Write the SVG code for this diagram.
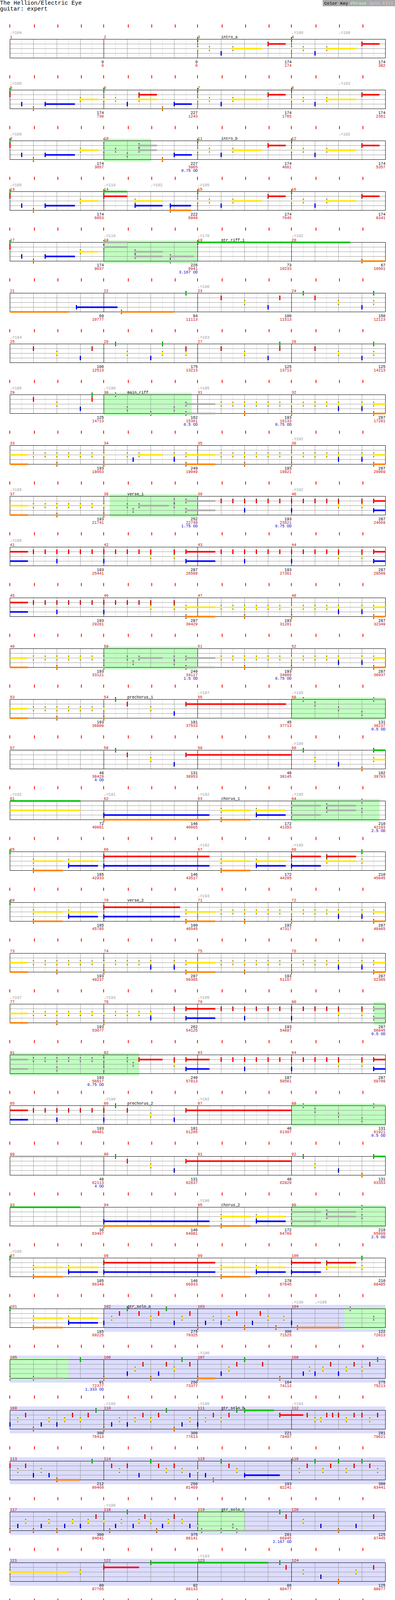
<svg xmlns="http://www.w3.org/2000/svg" width="1010" height="6225" viewBox="0 0 1010 6225">
<style>
text{font-family:"Liberation Mono","DejaVu Sans Mono",monospace;font-size:10px}
.e{text-anchor:end}
.r{fill:#c00}
.g{fill:#060}
.b{fill:#00c}
.t{fill:#999}
.sg,.sr,.sy,.sb,.so,.sa{fill:none;stroke-width:4}
.sg{stroke:#00c000}.sr{stroke:#f00}.sy{stroke:#ffe600}.sb{stroke:#00f}.so{stroke:#ff8000}.sa{stroke:#aaa}
.ph{fill:#c0ffc0}
.sl{fill:#dcdcff}
</style>
<defs>
<path id="tk" d="M24.5-38v8M87.5-38v8M147.5-38v8M207.5-38v8M264.5-38v8M327.5-38v8M387.5-38v8M447.5-38v8M504.5-38v8M567.5-38v8M627.5-38v8M687.5-38v8M744.5-38v8M807.5-38v8M867.5-38v8M927.5-38v8" stroke="#f00" stroke-width="2"/>
<g id="st" fill="none">
<path stroke="#ddd" d="M55 0v48M115 0v48M175 0v48M235 0v48M295 0v48M355 0v48M415 0v48M475 0v48M535 0v48M595 0v48M655 0v48M715 0v48M775 0v48M835 0v48M895 0v48M955 0v48"/>
<path stroke="#999" d="M85 0v48M145 0v48M205 0v48M325 0v48M385 0v48M445 0v48M565 0v48M625 0v48M685 0v48M805 0v48M865 0v48M925 0v48M25 12H985M25 24H985M25 36H985"/>
<path stroke="#000" d="M265 0v48M505 0v48M745 0v48"/>
<rect x="25" y="0" width="960" height="48" stroke="#000"/>
</g>
<g id="G"><rect x="-1.5" y="-5.5" width="3" height="11"/><rect x="-1.5" y="-4.5" width="3" height="9" fill="#00c000"/></g>
<g id="R"><rect x="-1.5" y="6.5" width="3" height="11"/><rect x="-1.5" y="7.5" width="3" height="9" fill="#f00"/></g>
<g id="Y"><rect x="-1.5" y="18.5" width="3" height="11"/><rect x="-1.5" y="19.5" width="3" height="9" fill="#ffe600"/></g>
<g id="B"><rect x="-1.5" y="30.5" width="3" height="11"/><rect x="-1.5" y="31.5" width="3" height="9" fill="#00f"/></g>
<g id="O"><rect x="-1.5" y="42.5" width="3" height="11"/><rect x="-1.5" y="43.5" width="3" height="9" fill="#ff8000"/></g>
<g id="A0"><rect x="-1.5" y="-5.5" width="3" height="11"/><rect x="-1.5" y="-4.5" width="3" height="9" fill="#999"/><rect x="-0.5" y="-3.5" width="1" height="7" fill="#ddd"/></g>
<use id="A1" href="#A0" y="12"/>
<use id="A2" href="#A0" y="24"/>
<use id="A3" href="#A0" y="36"/>
<use id="A4" href="#A0" y="48"/>
<g id="I1"><path class="sb" d="M115 36H191"/><path class="sy" d="M205 24H251"/><use href="#G" x="25"/><use href="#R" x="25"/><use href="#B" x="55"/><use href="#O" x="85"/><use href="#B" x="115"/><use href="#Y" x="205"/></g>
<g id="I2"><path class="sr" d="M355 12H401"/><path class="sy" d="M355 24H401"/><path class="sb" d="M445 36H490"/><use href="#G" x="265"/><use href="#Y" x="265"/><use href="#Y" x="295"/><use href="#B" x="325"/><use href="#R" x="355"/><use href="#Y" x="355"/><use href="#O" x="415"/><use href="#B" x="445"/></g>
<g id="I3"><path class="sy" d="M90 24H165"/><path class="sr" d="M180 12H225"/><use href="#G"/><use href="#Y"/><use href="#Y" x="30"/><use href="#B" x="60"/><use href="#Y" x="90"/><use href="#R" x="180"/></g>
<g id="Ya"><use href="#Y" x="60"/><use href="#Y" x="90"/><use href="#Y" x="120"/><use href="#Y" x="150"/><use href="#Y" x="180"/><use href="#Y" x="210"/><use href="#O" x="120"/></g>
<g id="Yb"><path class="sy" d="M210 24H240"/><path class="so" d="M210 48H240"/><use href="#Y"/><use href="#Y" x="30"/><use href="#Y" x="60"/><use href="#Y" x="90"/><use href="#Y" x="120"/><use href="#Y" x="180"/><use href="#Y" x="210"/><use href="#B" x="120"/><use href="#B" x="180"/><use href="#O"/><use href="#O" x="210"/></g>
<g id="Ra"><use href="#R" x="60"/><use href="#R" x="90"/><use href="#R" x="120"/><use href="#R" x="150"/><use href="#R" x="180"/><use href="#R" x="210"/><use href="#B" x="120"/></g>
<g id="Rb"><path class="sr" d="M210 12H240"/><path class="sb" d="M210 36H240"/><use href="#R"/><use href="#R" x="30"/><use href="#R" x="60"/><use href="#R" x="90"/><use href="#R" x="120"/><use href="#R" x="180"/><use href="#R" x="210"/><use href="#Y" x="120"/><use href="#Y" x="180"/><use href="#B"/><use href="#B" x="210"/></g>
<g id="YS"><path class="sy" d="M25 24H71"/><path class="so" d="M25 48H71"/><use href="#Ya" x="25"/><use href="#Y" x="265"/><use href="#O" x="265"/></g>
<g id="RS"><path class="sr" d="M25 12H71"/><path class="sb" d="M25 36H71"/><use href="#Ra" x="25"/><use href="#R" x="265"/><use href="#B" x="265"/></g>
<g id="PC"><use href="#G" x="295"/><use href="#R" x="325"/><use href="#Y" x="385"/><use href="#B" x="445"/><use href="#R" x="475"/></g>
<g id="CH"><path class="sy" d="M60 24H135M150 24H225"/><path class="so" d="M60 48H135"/><path class="sb" d="M150 36H225"/><use href="#Y" x="60"/><use href="#O" x="60"/><use href="#Y" x="150"/><use href="#B" x="150"/></g>
<g id="CM"><path class="sr" d="M745 12H820M835 12H910"/><path class="sb" d="M745 36H820"/><path class="sy" d="M835 24H910"/><use href="#R" x="745"/><use href="#B" x="745"/><use href="#R" x="835"/><use href="#Y" x="835"/><use href="#G" x="925"/><use href="#Y" x="925"/></g>
<g id="GR"><path class="sa" d="M745 12H820M745 36H820M835 12H910M835 24H910"/><use href="#A1" x="745"/><use href="#A3" x="745"/><use href="#A1" x="835"/><use href="#A2" x="835"/><use href="#A0" x="925"/><use href="#A2" x="925"/></g>
<g id="R8"><use href="#R"/><use href="#R" x="30"/><use href="#R" x="60"/><use href="#R" x="90"/><use href="#R" x="120"/><use href="#R" x="150"/><use href="#R" x="180"/><use href="#R" x="210"/></g>
<g id="BR1"><use href="#R" x="265"/><use href="#R" x="295"/><use href="#R" x="325"/><use href="#R" x="355"/><use href="#R" x="385"/><use href="#R" x="445"/><use href="#O" x="295"/><use href="#B" x="385"/><use href="#Y" x="415"/></g>
<g id="BR2"><path class="sr" d="M655 12H715"/><path class="sb" d="M655 36H715"/><use href="#R" x="505"/><use href="#R" x="535"/><use href="#R" x="595"/><use href="#R" x="655"/><use href="#B" x="535"/><use href="#B" x="655"/><use href="#O" x="595"/></g>
<g id="BC"><path class="sy" d="M805 24H865"/><path class="so" d="M805 48H865"/><use href="#Y" x="745"/><use href="#O" x="775"/><use href="#Y" x="805"/><use href="#O" x="805"/><use href="#Y" x="895"/><use href="#B" x="895"/><use href="#Y" x="955"/></g>
<g id="BD1"><path class="sb" d="M115 36H191"/><path class="so" d="M115 48H191"/><use href="#Y" x="25"/><use href="#O" x="25"/><use href="#Y" x="85"/><use href="#B" x="115"/><use href="#O" x="115"/><use href="#B" x="205"/><use href="#O" x="235"/></g>
<g id="BD2"><path class="sy" d="M325 24H401"/><path class="so" d="M325 48H401"/><path class="sr" d="M415 12H490"/><path class="sb" d="M415 36H490"/><use href="#Y" x="265"/><use href="#O" x="295"/><use href="#Y" x="325"/><use href="#O" x="325"/><use href="#R" x="415"/><use href="#B" x="415"/></g>
<g id="E1"><path class="sr" d="M25 12H100M115 12H191"/><path class="sb" d="M25 36H100"/><path class="sy" d="M115 24H191"/><use href="#R" x="25"/><use href="#B" x="25"/><use href="#R" x="115"/><use href="#Y" x="115"/></g>
</defs>
<rect width="1010" height="6225" fill="#fff"/>
<g id="header">
<text x="0" y="12" style="font-size:14.5px">The Hellion/Electric Eye</text>
<text x="0" y="27" style="font-size:14.5px">guitar: expert</text>
<rect x="825" y="0" width="185" height="16" fill="#aaa"/>
<text x="829" y="11.5" style="font-size:11.3px">Color Key <tspan fill="#c0ffc0">Phrase</tspan> <tspan fill="#d0d0ff">Solo</tspan> <tspan fill="#ffc0c0">Fill</tspan></text>
</g>

<g id="row0" transform="translate(.5 100.5)"><use href="#st"/><use href="#tk"/>
<text class="t" y="-14"><tspan x="25">♩=104</tspan><tspan x="745">♩=106</tspan><tspan x="865">♩=100</tspan></text>
<text class="r" y="-3"><tspan x="25">1</tspan><tspan x="265">2</tspan><tspan x="505">3</tspan><tspan x="745">4</tspan></text>
<text x="565" y="-3">intro_a</text>
<use href="#I3" x="505"/><use href="#I3" x="745"/>
<text class="e" y="61"><tspan x="265">0</tspan><tspan x="505">0</tspan><tspan x="745">174</tspan><tspan x="985">174</tspan></text>
<text class="e r" y="70"><tspan x="265">0</tspan><tspan x="505">0</tspan><tspan x="745">174</tspan><tspan x="985">382</tspan></text>
</g>

<g id="row1" transform="translate(.5 230.5)"><use href="#st"/><use href="#tk"/>
<text class="t" y="-14"><tspan x="25">♩=105</tspan><tspan x="865">♩=103</tspan></text>
<text class="r" y="-3"><tspan x="25">5</tspan><tspan x="265">6</tspan><tspan x="505">7</tspan><tspan x="745">8</tspan></text>
<use href="#I1"/><use href="#I2"/><use href="#I3" x="505"/><use href="#I3" x="745"/>
<text class="e" y="61"><tspan x="265">174</tspan><tspan x="505">227</tspan><tspan x="745">174</tspan><tspan x="985">174</tspan></text>
<text class="e r" y="70"><tspan x="265">730</tspan><tspan x="505">1243</tspan><tspan x="745">1765</tspan><tspan x="985">2361</tspan></text>
</g>

<g id="row2" transform="translate(.5 360.5)"><rect class="ph" x="265" y="-5" width="121" height="58"/><use href="#st"/><use href="#tk"/>
<text class="t" y="-14"><tspan x="25">♩=105</tspan><tspan x="865">♩=102</tspan></text>
<text class="r" y="-3"><tspan x="25">9</tspan><tspan x="265">10</tspan><tspan x="505">11</tspan><tspan x="745">12</tspan></text>
<text x="565" y="-3">intro_b</text>
<use href="#I1"/>
<path class="sa" d="M355 12H401M355 24H401"/><path class="sb" d="M445 36H490"/>
<use href="#A0" x="265"/><use href="#A2" x="265"/><use href="#A2" x="295"/><use href="#A3" x="325"/><use href="#A1" x="355"/><use href="#A2" x="355"/><use href="#O" x="415"/><use href="#B" x="445"/>
<use href="#I3" x="505"/><use href="#I3" x="745"/>
<text class="e" y="61"><tspan x="265">174</tspan><tspan x="505">227</tspan><tspan x="745">174</tspan><tspan x="985">174</tspan></text>
<text class="e r" y="70"><tspan x="265">3057</tspan><tspan x="505">3965</tspan><tspan x="745">4661</tspan><tspan x="985">5357</tspan></text>
<text class="e b" x="505" y="79">0.75 OD</text>
</g>

<g id="row3" transform="translate(.5 490.5)"><use href="#st"/><use href="#tk"/>
<text class="t" y="-14"><tspan x="25">♩=105</tspan><tspan x="265">♩=110</tspan><tspan x="385">♩=102</tspan><tspan x="505">♩=105</tspan></text>
<text class="r" y="-3"><tspan x="25">13</tspan><tspan x="265">14</tspan><tspan x="505">15</tspan><tspan x="745">16</tspan></text>
<use href="#I1"/>
<path class="sg" d="M265 0H325"/><path class="sr" d="M265 12H325"/><path class="sy" d="M345 24H415"/><path class="sb" d="M345 36H415M435 36H488"/><path class="so" d="M435 48H488"/>
<use href="#G" x="265"/><use href="#R" x="265"/><use href="#Y" x="345"/><use href="#B" x="345"/><use href="#B" x="435"/><use href="#O" x="435"/>
<use href="#I3" x="505"/><use href="#I3" x="745"/>
<text class="e" y="61"><tspan x="265">174</tspan><tspan x="505">222</tspan><tspan x="745">174</tspan><tspan x="985">174</tspan></text>
<text class="e r" y="70"><tspan x="265">6053</tspan><tspan x="505">6949</tspan><tspan x="745">7645</tspan><tspan x="985">8341</tspan></text>
</g>

<g id="row4" transform="translate(.5 620.5)"><rect class="ph" x="265" y="-5" width="240" height="58"/><use href="#st"/><use href="#tk"/>
<text class="t" y="-14"><tspan x="265">♩=110</tspan><tspan x="505">♩=176</tspan><tspan x="745">♩=192</tspan></text>
<text class="r" y="-3"><tspan x="25">17</tspan><tspan x="265">18</tspan><tspan x="505">19</tspan><tspan x="745">20</tspan></text>
<text x="565" y="-3">gtr_riff_1</text>
<use href="#I1"/>
<path class="sa" d="M265 0H325M265 12H325M345 24H415M345 36H415M435 36H495M435 48H495"/>
<use href="#A0" x="265"/><use href="#A1" x="265"/><use href="#A2" x="345"/><use href="#A3" x="345"/><use href="#A3" x="435"/><use href="#A4" x="435"/>
<path class="sg" d="M505 0H895"/><use href="#G" x="505"/><path class="so" d="M925 48H985"/><use href="#O" x="925"/>
<text class="e" y="61"><tspan x="265">174</tspan><tspan x="505">226</tspan><tspan x="745">73</tspan><tspan x="985">67</tspan></text>
<text class="e r" y="70"><tspan x="265">9037</tspan><tspan x="505">9941</tspan><tspan x="745">10233</tspan><tspan x="985">10501</tspan></text>
<text class="e b" x="505" y="79">3.167 OD</text>
</g>

<g id="row5" transform="translate(.5 750.5)"><use href="#st"/><use href="#tk"/>
<text class="t" x="505" y="-14">♩=190</text>
<text class="r" y="-3"><tspan x="25">21</tspan><tspan x="265">22</tspan><tspan x="505">23</tspan><tspan x="745">24</tspan></text>
<path class="so" d="M25 48H175M310 48H445"/><path class="sb" d="M195 36H300"/>
<use href="#B" x="195"/><use href="#O" x="310"/><use href="#G" x="475"/><use href="#R" x="565"/><use href="#Y" x="625"/><use href="#B" x="685"/><use href="#R" x="715"/><use href="#G" x="775"/><use href="#R" x="805"/><use href="#Y" x="865"/><use href="#B" x="925"/><use href="#G" x="955"/><use href="#Y" x="955"/>
<text class="e" y="61"><tspan x="265">69</tspan><tspan x="505">84</tspan><tspan x="745">100</tspan><tspan x="985">150</tspan></text>
<text class="e r" y="70"><tspan x="265">10777</tspan><tspan x="505">11113</tspan><tspan x="745">11513</tspan><tspan x="985">12113</tspan></text>
</g>

<g id="row6" transform="translate(.5 880.5)"><use href="#st"/><use href="#tk"/>
<text class="t" y="-14"><tspan x="25">♩=184</tspan><tspan x="505">♩=183</tspan></text>
<text class="r" y="-3"><tspan x="25">25</tspan><tspan x="265">26</tspan><tspan x="505">27</tspan><tspan x="745">28</tspan></text>
<use href="#R" x="85"/><use href="#Y" x="145"/><use href="#B" x="205"/><use href="#R" x="235"/><use href="#G" x="295"/><use href="#Y" x="325"/><use href="#B" x="385"/><use href="#G" x="415"/><use href="#Y" x="415"/><use href="#R" x="475"/><use href="#Y" x="475"/><use href="#R" x="565"/><use href="#Y" x="625"/><use href="#B" x="685"/><use href="#G" x="715"/><use href="#R" x="715"/><use href="#R" x="805"/><use href="#Y" x="865"/><use href="#B" x="925"/><use href="#G" x="955"/><use href="#Y" x="955"/>
<text class="e" y="61"><tspan x="265">100</tspan><tspan x="505">175</tspan><tspan x="745">125</tspan><tspan x="985">125</tspan></text>
<text class="e r" y="70"><tspan x="265">12513</tspan><tspan x="505">13213</tspan><tspan x="745">13713</tspan><tspan x="985">14213</tspan></text>
</g>

<g id="row7" transform="translate(.5 1010.5)"><rect class="ph" x="265" y="-5" width="225" height="58"/><use href="#st"/><use href="#tk"/>
<text class="t" y="-14"><tspan x="25">♩=185</tspan><tspan x="265">♩=190</tspan><tspan x="505">♩=195</tspan></text>
<text class="r" y="-3"><tspan x="25">29</tspan><tspan x="265">30</tspan><tspan x="505">31</tspan><tspan x="745">32</tspan></text>
<text x="325" y="-3">main_riff</text>
<use href="#R" x="85"/><use href="#Y" x="145"/><use href="#B" x="205"/><use href="#G" x="235"/><use href="#R" x="235"/>
<use href="#A0" x="295"/><use href="#A3" x="325"/><use href="#A4" x="385"/><use href="#A3" x="445"/>
<path class="sa" d="M475 24H550M475 48H550"/><use href="#A2" x="475"/><use href="#A4" x="475"/>
<use href="#Ya" x="505"/><use href="#Yb" x="745"/>
<text class="e" y="61"><tspan x="265">125</tspan><tspan x="505">162</tspan><tspan x="745">193</tspan><tspan x="985">287</tspan></text>
<text class="e r" y="70"><tspan x="265">14713</tspan><tspan x="505">15361</tspan><tspan x="745">16133</tspan><tspan x="985">17281</tspan></text>
<text class="e b" y="79"><tspan x="505">0.5 OD</tspan><tspan x="745">0.75 OD</tspan></text>
</g>

<g id="row8" transform="translate(.5 1140.5)"><use href="#st"/><use href="#tk"/>
<text class="t" x="745" y="-14">♩=192</text>
<text class="r" y="-3"><tspan x="25">33</tspan><tspan x="265">34</tspan><tspan x="505">35</tspan><tspan x="745">36</tspan></text>
<use href="#YS"/>
<path class="sy" d="M355 24H415M475 24H550"/><path class="so" d="M475 48H550"/>
<use href="#Y" x="325"/><use href="#B" x="340"/><use href="#Y" x="355"/><use href="#Y" x="445"/><use href="#B" x="445"/><use href="#Y" x="475"/><use href="#O" x="475"/>
<use href="#Ya" x="505"/><use href="#Yb" x="745"/>
<text class="e" y="61"><tspan x="265">193</tspan><tspan x="505">249</tspan><tspan x="745">193</tspan><tspan x="985">287</tspan></text>
<text class="e r" y="70"><tspan x="265">18053</tspan><tspan x="505">19049</tspan><tspan x="745">19821</tspan><tspan x="985">20969</tspan></text>
</g>

<g id="row9" transform="translate(.5 1270.5)"><rect class="ph" x="280" y="-5" width="225" height="58"/><use href="#st"/><use href="#tk"/>
<text class="t" y="-14"><tspan x="25">♩=195</tspan><tspan x="745">♩=192</tspan></text>
<text class="r" y="-3"><tspan x="25">37</tspan><tspan x="265">38</tspan><tspan x="505">39</tspan><tspan x="745">40</tspan></text>
<text x="325" y="-3">verse_1</text>
<use href="#YS"/>
<path class="sa" d="M355 24H431M475 12H550M475 36H550"/>
<use href="#A2" x="325"/><use href="#A3" x="340"/><use href="#A2" x="355"/><use href="#A1" x="445"/><use href="#A2" x="445"/><use href="#A1" x="475"/><use href="#A3" x="475"/>
<use href="#Ra" x="505"/><use href="#Rb" x="745"/>
<text class="e" y="61"><tspan x="265">193</tspan><tspan x="505">252</tspan><tspan x="745">193</tspan><tspan x="985">287</tspan></text>
<text class="e r" y="70"><tspan x="265">21741</tspan><tspan x="505">22749</tspan><tspan x="745">23521</tspan><tspan x="985">24669</tspan></text>
<text class="e b" y="79"><tspan x="505">1.75 OD</tspan><tspan x="745">0.75 OD</tspan></text>
</g>

<g id="row10" transform="translate(.5 1400.5)"><use href="#st"/><use href="#tk"/>
<text class="t" x="25" y="-14">♩=195</text>
<text class="r" y="-3"><tspan x="25">41</tspan><tspan x="265">42</tspan><tspan x="505">43</tspan><tspan x="745">44</tspan></text>
<use href="#RS"/>
<path class="sr" d="M475 12H550"/><path class="sb" d="M475 36H550"/>
<use href="#R" x="295"/><use href="#R" x="325"/><use href="#R" x="355"/><use href="#R" x="385"/><use href="#Y" x="385"/><use href="#R" x="445"/><use href="#Y" x="445"/><use href="#R" x="475"/><use href="#B" x="475"/>
<use href="#Ra" x="505"/><use href="#Rb" x="745"/>
<text class="e" y="61"><tspan x="265">193</tspan><tspan x="505">287</tspan><tspan x="745">193</tspan><tspan x="985">287</tspan></text>
<text class="e r" y="70"><tspan x="265">25441</tspan><tspan x="505">26589</tspan><tspan x="745">27361</tspan><tspan x="985">28509</tspan></text>
</g>

<g id="row11" transform="translate(.5 1530.5)"><use href="#st"/><use href="#tk"/>
<text class="r" y="-3"><tspan x="25">45</tspan><tspan x="265">46</tspan><tspan x="505">47</tspan><tspan x="745">48</tspan></text>
<use href="#RS"/>
<path class="sy" d="M475 24H550"/><path class="so" d="M475 48H550"/>
<use href="#R" x="295"/><use href="#R" x="325"/><use href="#R" x="355"/><use href="#R" x="385"/><use href="#Y" x="385"/><use href="#R" x="445"/><use href="#Y" x="445"/><use href="#Y" x="475"/><use href="#O" x="475"/>
<use href="#Ya" x="505"/><use href="#Yb" x="745"/>
<text class="e" y="61"><tspan x="265">193</tspan><tspan x="505">287</tspan><tspan x="745">193</tspan><tspan x="985">287</tspan></text>
<text class="e r" y="70"><tspan x="265">29281</tspan><tspan x="505">30429</tspan><tspan x="745">31201</tspan><tspan x="985">32349</tspan></text>
</g>

<g id="row12" transform="translate(.5 1660.5)"><rect class="ph" x="265" y="-5" width="240" height="58"/><use href="#st"/><use href="#tk"/>
<text class="r" y="-3"><tspan x="25">49</tspan><tspan x="265">50</tspan><tspan x="505">51</tspan><tspan x="745">52</tspan></text>
<path class="sy" d="M25 24H71"/><path class="so" d="M25 48H71"/><use href="#Ya" x="25"/>
<path class="sa" d="M355 24H415M475 24H550M475 48H550"/>
<use href="#A2" x="265"/><use href="#A4" x="265"/><use href="#A2" x="325"/><use href="#A3" x="340"/><use href="#A2" x="355"/><use href="#A2" x="445"/><use href="#A3" x="445"/><use href="#A2" x="475"/><use href="#A4" x="475"/>
<use href="#Ya" x="505"/><use href="#Yb" x="745"/>
<text class="e" y="61"><tspan x="265">193</tspan><tspan x="505">249</tspan><tspan x="745">193</tspan><tspan x="985">287</tspan></text>
<text class="e r" y="70"><tspan x="265">33121</tspan><tspan x="505">34117</tspan><tspan x="745">34889</tspan><tspan x="985">36037</tspan></text>
<text class="e b" y="79"><tspan x="505">1.5 OD</tspan><tspan x="745">0.75 OD</tspan></text>
</g>

<g id="row13" transform="translate(.5 1790.5)"><rect class="ph" x="745" y="-5" width="240" height="58"/><use href="#st"/><use href="#tk"/>
<text class="t" y="-14"><tspan x="505">♩=197</tspan><tspan x="745">♩=195</tspan></text>
<text class="r" y="-3"><tspan x="25">53</tspan><tspan x="265">54</tspan><tspan x="505">55</tspan><tspan x="745">56</tspan></text>
<text x="325" y="-3">prechorus_1</text>
<use href="#YS"/>
<path class="sr" d="M475 12H731"/><use href="#PC"/>
<path class="sa" d="M955 0H985"/>
<use href="#A0" x="775"/><use href="#A1" x="805"/><use href="#A2" x="865"/><use href="#A3" x="925"/><use href="#A0" x="955"/>
<text class="e" y="61"><tspan x="265">193</tspan><tspan x="505">181</tspan><tspan x="745">45</tspan><tspan x="985">131</tspan></text>
<text class="e r" y="70"><tspan x="265">36809</tspan><tspan x="505">37533</tspan><tspan x="745">37713</tspan><tspan x="985">38237</tspan></text>
<text class="e b" x="985" y="79">0.5 OD</text>
</g>

<g id="row14" transform="translate(.5 1920.5)"><use href="#st"/><use href="#tk"/>
<text class="t" x="745" y="-14">♩=190</text>
<text class="r" y="-3"><tspan x="25">57</tspan><tspan x="265">58</tspan><tspan x="505">59</tspan><tspan x="745">60</tspan></text>
<path class="sa" d="M25 0H265"/>
<path class="sr" d="M475 12H745"/><use href="#PC"/>
<path class="sg" d="M955 0H985"/><path class="sy" d="M955 24H985"/>
<use href="#G" x="775"/><use href="#Y" x="805"/><use href="#B" x="865"/><use href="#O" x="925"/><use href="#G" x="955"/><use href="#Y" x="955"/>
<text class="e" y="61"><tspan x="265">48</tspan><tspan x="505">131</tspan><tspan x="745">48</tspan><tspan x="985">162</tspan></text>
<text class="e r" y="70"><tspan x="265">38429</tspan><tspan x="505">38953</tspan><tspan x="745">39145</tspan><tspan x="985">39793</tspan></text>
<text class="e b" x="265" y="79">4 OD</text>
</g>

<g id="row15" transform="translate(.5 2050.5)"><rect class="ph" x="745" y="-5" width="225" height="58"/><use href="#st"/><use href="#tk"/>
<text class="t" y="-14"><tspan x="25">♩=192</tspan><tspan x="265">♩=191</tspan><tspan x="505">♩=192</tspan><tspan x="745">♩=195</tspan></text>
<text class="r" y="-3"><tspan x="25">61</tspan><tspan x="265">62</tspan><tspan x="505">63</tspan><tspan x="745">64</tspan></text>
<text x="565" y="-3">chorus_1</text>
<path class="sg" d="M25 0H205"/><path class="sy" d="M25 24H205"/>
<path class="sb" d="M265 36H535"/><path class="so" d="M265 48H535"/><use href="#B" x="265"/><use href="#O" x="265"/>
<use href="#CH" x="505"/><use href="#GR"/>
<text class="e" y="61"><tspan x="265">72</tspan><tspan x="505">146</tspan><tspan x="745">172</tspan><tspan x="985">210</tspan></text>
<text class="e r" y="70"><tspan x="265">40081</tspan><tspan x="505">40665</tspan><tspan x="745">41353</tspan><tspan x="985">42193</tspan></text>
<text class="e b" x="985" y="79">2.5 OD</text>
</g>

<g id="row16" transform="translate(.5 2180.5)"><use href="#st"/><use href="#tk"/>
<text class="t" y="-14"><tspan x="505">♩=192</tspan><tspan x="745">♩=195</tspan></text>
<text class="r" y="-3"><tspan x="25">65</tspan><tspan x="265">66</tspan><tspan x="505">67</tspan><tspan x="745">68</tspan></text>
<use href="#G" x="25"/><use href="#CH" x="25"/>
<path class="sr" d="M265 12H535"/><path class="sb" d="M265 36H535"/><use href="#R" x="265"/><use href="#B" x="265"/>
<use href="#CH" x="505"/><use href="#CM"/>
<text class="e" y="61"><tspan x="265">185</tspan><tspan x="505">146</tspan><tspan x="745">172</tspan><tspan x="985">210</tspan></text>
<text class="e r" y="70"><tspan x="265">42933</tspan><tspan x="505">43517</tspan><tspan x="745">44205</tspan><tspan x="985">45045</tspan></text>
</g>

<g id="row17" transform="translate(.5 2310.5)"><use href="#st"/><use href="#tk"/>
<text class="t" x="505" y="-14">♩=193</text>
<text class="r" y="-3"><tspan x="25">69</tspan><tspan x="265">70</tspan><tspan x="505">71</tspan><tspan x="745">72</tspan></text>
<text x="325" y="-3">verse_2</text>
<use href="#G" x="25"/><use href="#CH" x="25"/>
<path class="sr" d="M265 12H460"/><path class="sb" d="M265 36H460"/><use href="#R" x="265"/><use href="#B" x="265"/>
<path class="sy" d="M475 24H550"/><path class="so" d="M475 48H550"/><use href="#Y" x="475"/><use href="#O" x="475"/>
<use href="#Ya" x="505"/><use href="#Yb" x="745"/>
<text class="e" y="61"><tspan x="265">185</tspan><tspan x="505">190</tspan><tspan x="745">193</tspan><tspan x="985">287</tspan></text>
<text class="e r" y="70"><tspan x="265">45785</tspan><tspan x="505">46545</tspan><tspan x="745">47317</tspan><tspan x="985">48465</tspan></text>
</g>

<g id="row18" transform="translate(.5 2440.5)"><use href="#st"/><use href="#tk"/>
<text class="r" y="-3"><tspan x="25">73</tspan><tspan x="265">74</tspan><tspan x="505">75</tspan><tspan x="745">76</tspan></text>
<use href="#YS"/>
<path class="sy" d="M475 24H550"/><path class="so" d="M475 48H550"/>
<use href="#Y" x="295"/><use href="#Y" x="325"/><use href="#Y" x="355"/><use href="#Y" x="385"/><use href="#B" x="385"/><use href="#Y" x="445"/><use href="#B" x="445"/><use href="#Y" x="475"/><use href="#O" x="475"/>
<use href="#Ya" x="505"/><use href="#Yb" x="745"/>
<text class="e" y="61"><tspan x="265">193</tspan><tspan x="505">287</tspan><tspan x="745">193</tspan><tspan x="985">287</tspan></text>
<text class="e r" y="70"><tspan x="265">49237</tspan><tspan x="505">50385</tspan><tspan x="745">51157</tspan><tspan x="985">52305</tspan></text>
</g>

<g id="row19" transform="translate(.5 2570.5)"><rect class="ph" x="955" y="-5" width="30" height="58"/><use href="#st"/><use href="#tk"/>
<text class="t" y="-14"><tspan x="25">♩=197</tspan><tspan x="265">♩=193</tspan><tspan x="505">♩=195</tspan></text>
<text class="r" y="-3"><tspan x="25">77</tspan><tspan x="265">78</tspan><tspan x="505">79</tspan><tspan x="745">80</tspan></text>
<use href="#YS"/>
<path class="sr" d="M475 12H550"/><path class="sb" d="M475 36H550"/>
<use href="#Y" x="295"/><use href="#Y" x="325"/><use href="#Y" x="355"/><use href="#Y" x="385"/><use href="#B" x="385"/><use href="#R" x="445"/><use href="#R" x="475"/><use href="#B" x="475"/>
<use href="#Ra" x="505"/>
<use href="#R" x="745"/><use href="#R" x="775"/><use href="#R" x="805"/><use href="#R" x="835"/><use href="#R" x="865"/><use href="#Y" x="865"/><use href="#R" x="925"/><use href="#Y" x="925"/><use href="#B" x="745"/>
<path class="sa" d="M955 12H985M955 36H985"/><use href="#A1" x="955"/><use href="#A3" x="955"/>
<text class="e" y="61"><tspan x="265">193</tspan><tspan x="505">262</tspan><tspan x="745">193</tspan><tspan x="985">287</tspan></text>
<text class="e r" y="70"><tspan x="265">53077</tspan><tspan x="505">54125</tspan><tspan x="745">54897</tspan><tspan x="985">56045</tspan></text>
<text class="e b" x="985" y="79">0.5 OD</text>
</g>

<g id="row20" transform="translate(.5 2700.5)"><rect class="ph" x="25" y="-5" width="330" height="58"/><use href="#st"/><use href="#tk"/>
<text class="r" y="-3"><tspan x="25">81</tspan><tspan x="265">82</tspan><tspan x="505">83</tspan><tspan x="745">84</tspan></text>
<path class="sa" d="M25 12H71M25 36H71"/>
<use href="#A1" x="85"/><use href="#A1" x="115"/><use href="#A1" x="145"/><use href="#A1" x="175"/><use href="#A1" x="205"/><use href="#A1" x="235"/><use href="#A1" x="265"/><use href="#A3" x="145"/><use href="#A3" x="265"/><use href="#A1" x="325"/><use href="#A2" x="340"/>
<path class="sr" d="M355 12H415M475 12H535"/><path class="sb" d="M475 36H535"/>
<use href="#R" x="355"/><use href="#R" x="445"/><use href="#Y" x="445"/><use href="#R" x="475"/><use href="#B" x="475"/>
<use href="#Ra" x="505"/><use href="#Rb" x="745"/>
<text class="e" y="61"><tspan x="265">193</tspan><tspan x="505">249</tspan><tspan x="745">187</tspan><tspan x="985">287</tspan></text>
<text class="e r" y="70"><tspan x="265">56817</tspan><tspan x="505">57813</tspan><tspan x="745">58561</tspan><tspan x="985">59709</tspan></text>
<text class="e b" x="265" y="79">0.75 OD</text>
</g>

<g id="row21" transform="translate(.5 2830.5)"><rect class="ph" x="745" y="-5" width="240" height="58"/><use href="#st"/><use href="#tk"/>
<text class="t" y="-14"><tspan x="265">♩=190</tspan><tspan x="505">♩=192</tspan></text>
<text class="r" y="-3"><tspan x="25">85</tspan><tspan x="265">86</tspan><tspan x="505">87</tspan><tspan x="745">88</tspan></text>
<text x="325" y="-3">prechorus_2</text>
<use href="#RS"/>
<path class="sr" d="M475 12H745"/><use href="#PC"/>
<path class="sa" d="M955 0H985"/>
<use href="#A0" x="775"/><use href="#A1" x="805"/><use href="#A2" x="865"/><use href="#A3" x="925"/><use href="#A0" x="955"/>
<text class="e" y="61"><tspan x="265">193</tspan><tspan x="505">181</tspan><tspan x="745">48</tspan><tspan x="985">131</tspan></text>
<text class="e r" y="70"><tspan x="265">60481</tspan><tspan x="505">61205</tspan><tspan x="745">61397</tspan><tspan x="985">61921</tspan></text>
<text class="e b" x="985" y="79">0.5 OD</text>
</g>

<g id="row22" transform="translate(.5 2960.5)"><use href="#st"/><use href="#tk"/>
<text class="r" y="-3"><tspan x="25">89</tspan><tspan x="265">90</tspan><tspan x="505">91</tspan><tspan x="745">92</tspan></text>
<path class="sa" d="M25 0H265"/>
<path class="sr" d="M475 12H745"/><use href="#PC"/>
<path class="sg" d="M955 0H985"/>
<use href="#G" x="775"/><use href="#Y" x="805"/><use href="#B" x="865"/><use href="#O" x="925"/><use href="#G" x="955"/>
<text class="e" y="61"><tspan x="265">48</tspan><tspan x="505">131</tspan><tspan x="745">48</tspan><tspan x="985">131</tspan></text>
<text class="e r" y="70"><tspan x="265">62113</tspan><tspan x="505">62637</tspan><tspan x="745">62829</tspan><tspan x="985">63353</tspan></text>
<text class="e b" x="265" y="79">4 OD</text>
</g>

<g id="row23" transform="translate(.5 3090.5)"><rect class="ph" x="745" y="-5" width="240" height="58"/><use href="#st"/><use href="#tk"/>
<text class="t" x="505" y="-14">♩=190</text>
<text class="r" y="-3"><tspan x="25">93</tspan><tspan x="265">94</tspan><tspan x="505">95</tspan><tspan x="745">96</tspan></text>
<text x="565" y="-3">chorus_2</text>
<path class="sg" d="M25 0H205"/>
<path class="sb" d="M265 36H535"/><path class="so" d="M265 48H535"/><use href="#B" x="265"/><use href="#O" x="265"/>
<use href="#CH" x="505"/><use href="#GR"/>
<text class="e" y="61"><tspan x="265">36</tspan><tspan x="505">146</tspan><tspan x="745">172</tspan><tspan x="985">210</tspan></text>
<text class="e r" y="70"><tspan x="265">63497</tspan><tspan x="505">64081</tspan><tspan x="745">64769</tspan><tspan x="985">65609</tspan></text>
<text class="e b" x="985" y="79">2.5 OD</text>
</g>

<g id="row24" transform="translate(.5 3220.5)"><use href="#st"/><use href="#tk"/>
<text class="t" x="25" y="-14">♩=195</text>
<text class="r" y="-3"><tspan x="25">97</tspan><tspan x="265">98</tspan><tspan x="505">99</tspan><tspan x="745">100</tspan></text>
<use href="#G" x="25"/><use href="#CH" x="25"/>
<path class="sr" d="M265 12H550"/><path class="sb" d="M265 36H550"/><use href="#R" x="265"/><use href="#B" x="265"/>
<use href="#CH" x="505"/><use href="#CM"/>
<text class="e" y="61"><tspan x="265">185</tspan><tspan x="505">146</tspan><tspan x="745">178</tspan><tspan x="985">210</tspan></text>
<text class="e r" y="70"><tspan x="265">66349</tspan><tspan x="505">66933</tspan><tspan x="745">67645</tspan><tspan x="985">68485</tspan></text>
</g>

<g id="row25" transform="translate(.5 3350.5)"><rect class="sl" x="265" y="-10" width="720" height="69"/><rect class="ph" x="880" y="-5" width="105" height="58"/><use href="#st"/><use href="#tk"/>
<text class="t" y="-14"><tspan x="745">♩=130</tspan><tspan x="805">♩=195</tspan></text>
<text class="r" y="-3"><tspan x="25">101</tspan><tspan x="265">102</tspan><tspan x="505">103</tspan><tspan x="745">104</tspan></text>
<text x="325" y="-3">gtr_solo_a</text>
<use href="#G" x="25"/><use href="#CH" x="25"/>
<use href="#B" x="265"/><use href="#Y" x="285"/><use href="#R" x="305"/><use href="#G" x="325"/><use href="#R" x="355"/><use href="#Y" x="385"/><use href="#R" x="405"/><use href="#G" x="425"/><use href="#B" x="445"/><use href="#Y" x="465"/><use href="#R" x="485"/>
<use href="#O" x="505"/><use href="#B" x="525"/><use href="#Y" x="545"/><use href="#B" x="565"/><use href="#Y" x="585"/><use href="#R" x="605"/><use href="#O" x="625"/><use href="#B" x="645"/><use href="#R" x="665"/><use href="#Y" x="685"/><use href="#O" x="705"/><use href="#Y" x="725"/>
<use href="#B" x="745"/><path class="so" d="M760 48H870"/><use href="#O" x="760"/><use href="#A0" x="895"/><use href="#A2" x="955"/>
<text class="e" y="61"><tspan x="265">185</tspan><tspan x="505">275</tspan><tspan x="745">300</tspan><tspan x="985">122</tspan></text>
<text class="e r" y="70"><tspan x="265">69225</tspan><tspan x="505">70325</tspan><tspan x="745">71525</tspan><tspan x="985">72013</tspan></text>
</g>

<g id="row26" transform="translate(.5 3480.5)"><rect class="sl" x="25" y="-10" width="960" height="69"/><rect class="ph" x="25" y="-5" width="150" height="58"/><use href="#st"/><use href="#tk"/>
<text class="t" x="505" y="-14">♩=190</text>
<text class="r" y="-3"><tspan x="25">105</tspan><tspan x="265">106</tspan><tspan x="505">107</tspan><tspan x="745">108</tspan></text>
<use href="#A4" x="25"/><path class="sa" d="M85 48H165"/><use href="#A4" x="85"/><use href="#G" x="205"/>
<use href="#O" x="265"/><use href="#B" x="325"/><use href="#Y" x="345"/><use href="#R" x="365"/><use href="#O" x="385"/><use href="#B" x="405"/><use href="#R" x="425"/><use href="#Y" x="445"/><use href="#G" x="465"/><use href="#R" x="485"/>
<path class="so" d="M505 48H550"/><use href="#O" x="505"/><use href="#B" x="565"/><use href="#Y" x="585"/><use href="#R" x="605"/><use href="#G" x="625"/><use href="#R" x="671"/><use href="#O" x="715"/>
<use href="#B" x="775"/><use href="#Y" x="791"/><use href="#B" x="805"/><use href="#Y" x="825"/><use href="#R" x="845"/><use href="#B" x="865"/><use href="#Y" x="885"/><use href="#R" x="905"/><use href="#Y" x="925"/><use href="#R" x="945"/><use href="#G" x="965"/>
<text class="e" y="61"><tspan x="265">91</tspan><tspan x="505">250</tspan><tspan x="745">184</tspan><tspan x="985">275</tspan></text>
<text class="e r" y="70"><tspan x="265">72377</tspan><tspan x="505">73377</tspan><tspan x="745">74113</tspan><tspan x="985">75213</tspan></text>
<text class="e b" x="265" y="79">1.333 OD</text>
</g>

<g id="row27" transform="translate(.5 3610.5)"><rect class="sl" x="25" y="-10" width="960" height="69"/><use href="#st"/><use href="#tk"/>
<text class="t" y="-14"><tspan x="265">♩=195</tspan><tspan x="505">♩=190</tspan><tspan x="745">♩=193</tspan></text>
<text class="r" y="-3"><tspan x="25">109</tspan><tspan x="265">110</tspan><tspan x="505">111</tspan><tspan x="745">112</tspan></text>
<text x="565" y="-3">gtr_solo_b</text>
<use href="#B" x="25"/><use href="#Y" x="45"/><use href="#R" x="65"/><use href="#O" x="85"/><use href="#B" x="105"/><use href="#Y" x="125"/><use href="#B" x="145"/><use href="#Y" x="165"/><use href="#R" x="185"/><use href="#Y" x="205"/><use href="#R" x="225"/><use href="#G" x="245"/>
<use href="#O" x="265"/><use href="#B" x="285"/><use href="#Y" x="305"/><use href="#B" x="325"/><use href="#Y" x="345"/><use href="#R" x="365"/><use href="#Y" x="385"/><use href="#R" x="405"/><use href="#G" x="425"/><use href="#O" x="445"/><use href="#B" x="465"/><use href="#Y" x="485"/>
<use href="#B" x="505"/><use href="#Y" x="525"/><use href="#R" x="545"/><use href="#Y" x="565"/><use href="#R" x="585"/><use href="#G" x="605"/>
<path class="sg" d="M625 0H700"/><use href="#G" x="625"/><path class="sr" d="M715 12H775"/><use href="#R" x="715"/>
<use href="#R" x="785"/><use href="#Y" x="805"/><use href="#Y" x="820"/><use href="#R" x="835"/><use href="#R" x="850"/><use href="#R" x="865"/><use href="#Y" x="885"/><use href="#R" x="905"/><use href="#R" x="925"/><use href="#Y" x="945"/><use href="#R" x="965"/>
<text class="e" y="61"><tspan x="265">300</tspan><tspan x="505">300</tspan><tspan x="745">221</tspan><tspan x="985">281</tspan></text>
<text class="e r" y="70"><tspan x="265">76413</tspan><tspan x="505">77613</tspan><tspan x="745">78497</tspan><tspan x="985">79621</tspan></text>
</g>

<g id="row28" transform="translate(.5 3740.5)"><rect class="sl" x="25" y="-10" width="960" height="69"/><use href="#st"/><use href="#tk"/>
<text class="r" y="-3"><tspan x="25">113</tspan><tspan x="265">114</tspan><tspan x="505">115</tspan><tspan x="745">116</tspan></text>
<use href="#R" x="25"/><use href="#Y" x="45"/><use href="#R" x="65"/><use href="#B" x="85"/><use href="#Y" x="105"/><use href="#B" x="125"/><path class="so" d="M145 48H205"/><use href="#O" x="145"/><use href="#G" x="235"/>
<use href="#R" x="285"/><use href="#Y" x="305"/><use href="#R" x="325"/><use href="#B" x="355"/><use href="#G" x="385"/><use href="#R" x="405"/><use href="#Y" x="425"/><use href="#R" x="445"/><use href="#Y" x="465"/><use href="#B" x="485"/>
<use href="#Y" x="505"/><use href="#B" x="525"/><use href="#O" x="545"/><use href="#G" x="565"/><use href="#R" x="585"/><use href="#Y" x="605"/><path class="sb" d="M625 36H715"/><use href="#B" x="625"/>
<use href="#G" x="745"/><use href="#Y" x="765"/><use href="#R" x="785"/><use href="#G" x="805"/><use href="#Y" x="825"/><use href="#R" x="845"/><use href="#G" x="865"/><use href="#Y" x="885"/><use href="#R" x="905"/><use href="#G" x="925"/><use href="#R" x="945"/><use href="#Y" x="965"/>
<text class="e" y="61"><tspan x="265">212</tspan><tspan x="505">250</tspan><tspan x="745">193</tspan><tspan x="985">300</tspan></text>
<text class="e r" y="70"><tspan x="265">80469</tspan><tspan x="505">81469</tspan><tspan x="745">82241</tspan><tspan x="985">83441</tspan></text>
</g>

<g id="row29" transform="translate(.5 3870.5)"><rect class="sl" x="25" y="-10" width="960" height="69"/><rect class="ph" x="505" y="-5" width="120" height="58"/><use href="#st"/><use href="#tk"/>
<text class="t" x="265" y="-14">♩=190</text>
<text class="r" y="-3"><tspan x="25">117</tspan><tspan x="265">118</tspan><tspan x="505">119</tspan><tspan x="745">120</tspan></text>
<text x="565" y="-3">gtr_solo_c</text>
<use href="#O" x="25"/><use href="#B" x="45"/><use href="#Y" x="65"/><use href="#O" x="85"/><use href="#B" x="105"/><use href="#Y" x="125"/><use href="#O" x="145"/><use href="#B" x="165"/><use href="#Y" x="185"/><use href="#B" x="205"/><use href="#Y" x="225"/><use href="#R" x="245"/>
<use href="#Y" x="265"/><use href="#O" x="280"/><use href="#B" x="295"/><use href="#Y" x="310"/><use href="#G" x="325"/><use href="#B" x="340"/><use href="#Y" x="355"/><use href="#R" x="370"/><use href="#Y" x="385"/><use href="#O" x="400"/><use href="#B" x="415"/><use href="#Y" x="430"/><use href="#R" x="445"/><use href="#Y" x="465"/><use href="#B" x="485"/>
<path class="sa" d="M515 48H555M605 48H695"/><use href="#A3" x="505"/><use href="#A4" x="515"/><use href="#A4" x="565"/><use href="#A3" x="595"/><use href="#A4" x="605"/>
<use href="#G" x="715"/><use href="#R" x="731"/>
<use href="#Y" x="775"/><use href="#B" x="820"/><use href="#O" x="865"/><use href="#B" x="910"/><use href="#R" x="955"/>
<text class="e" y="61"><tspan x="265">300</tspan><tspan x="505">375</tspan><tspan x="745">201</tspan><tspan x="985">125</tspan></text>
<text class="e r" y="70"><tspan x="265">84641</tspan><tspan x="505">86141</tspan><tspan x="745">86945</tspan><tspan x="985">87445</tspan></text>
<text class="e b" x="745" y="79">2.167 OD</text>
</g>

<g id="row30" transform="translate(.5 4000.5)"><rect class="sl" x="25" y="-10" width="960" height="69"/><use href="#st"/><use href="#tk"/>
<text class="t" x="505" y="-14">♩=193</text>
<text class="r" y="-3"><tspan x="25">121</tspan><tspan x="265">122</tspan><tspan x="505">123</tspan><tspan x="745">124</tspan></text>
<path class="sy" d="M25 24H175"/><use href="#Y" x="25"/><use href="#Y" x="205"/>
<path class="sr" d="M265 12H355"/><use href="#R" x="265"/><path class="sg" d="M385 0H685"/><use href="#G" x="385"/>
<use href="#G" x="715"/><use href="#R" x="731"/>
<use href="#Y" x="775"/><use href="#B" x="820"/><use href="#O" x="865"/><use href="#Y" x="910"/><use href="#R" x="955"/>
<text class="e" y="61"><tspan x="265">80</tspan><tspan x="505">92</tspan><tspan x="745">86</tspan><tspan x="985">125</tspan></text>
<text class="e r" y="70"><tspan x="265">87765</tspan><tspan x="505">88133</tspan><tspan x="745">88477</tspan><tspan x="985">88977</tspan></text>
</g>

<g id="row31" transform="translate(.5 4130.5)"><rect class="sl" x="25" y="-10" width="735" height="69"/><rect class="ph" x="25" y="-5" width="240" height="58"/><use href="#st"/><use href="#tk"/>
<text x="762" y="-24">214 notes</text>
<text class="r" y="-3"><tspan x="25">125</tspan><tspan x="265">126</tspan><tspan x="505">127</tspan><tspan x="745">128</tspan></text>
<text x="805" y="-3">gtr_riff_2</text>
<path class="sa" d="M25 24H115M145 12H205"/><use href="#A2" x="25"/><use href="#A1" x="145"/><use href="#A0" x="235"/>
<use href="#R" x="295"/><use href="#Y" x="315"/><use href="#B" x="335"/><use href="#O" x="355"/><use href="#G" x="375"/><use href="#R" x="395"/><use href="#Y" x="415"/><use href="#B" x="435"/><use href="#O" x="455"/><use href="#B" x="475"/>
<use href="#G" x="505"/><use href="#R" x="525"/><use href="#Y" x="545"/><use href="#B" x="565"/><use href="#O" x="585"/><use href="#G" x="605"/><use href="#R" x="625"/><use href="#Y" x="645"/><use href="#B" x="665"/><use href="#O" x="685"/><use href="#Y" x="705"/><use href="#B" x="725"/><use href="#O" x="745"/>
<use href="#R" x="805"/><use href="#Y" x="865"/><use href="#B" x="925"/><path class="sg" d="M955 0H985"/><use href="#G" x="955"/>
<text class="e" y="61"><tspan x="265">105</tspan><tspan x="505">250</tspan><tspan x="745">300</tspan><tspan x="985">131</tspan></text>
<text class="e r" y="70"><tspan x="265">89397</tspan><tspan x="505">90397</tspan><tspan x="745">91597</tspan><tspan x="985" class="g">113521 </tspan><tspan>92121</tspan></text>
<text class="e b" x="265" y="79">2.5 OD</text>
</g>

<g id="row32" transform="translate(.5 4260.5)"><rect class="ph" x="475" y="-5" width="270" height="58"/><use href="#st"/><use href="#tk"/>
<text class="t" y="-14"><tspan x="25">♩=195</tspan><tspan x="265">♩=192</tspan><tspan x="745">♩=189</tspan></text>
<text class="r" y="-3"><tspan x="25">129</tspan><tspan x="265">130</tspan><tspan x="505">131</tspan><tspan x="745">132</tspan></text>
<path class="sg" d="M25 0H71M235 0H311"/><path class="sy" d="M235 24H311"/>
<use href="#R" x="85"/><use href="#Y" x="145"/><use href="#B" x="205"/><use href="#G" x="235"/><use href="#Y" x="235"/>
<use href="#R" x="325"/><use href="#Y" x="385"/><use href="#B" x="445"/>
<path class="sa" d="M475 12H550M475 24H550"/><use href="#A1" x="475"/><use href="#A2" x="475"/>
<use href="#A2" x="565"/><use href="#A3" x="625"/><use href="#A0" x="655"/><use href="#A1" x="655"/><use href="#A0" x="715"/><use href="#A2" x="715"/>
<use href="#R" x="805"/><use href="#Y" x="865"/><use href="#B" x="925"/><use href="#R" x="955"/><use href="#Y" x="955"/>
<text class="e" y="61"><tspan x="265">146</tspan><tspan x="505">155</tspan><tspan x="745">168</tspan><tspan x="985">125</tspan></text>
<text class="e r" y="70"><tspan x="265" class="g">114105 </tspan><tspan>92705</tspan><tspan x="505" class="g">114725 </tspan><tspan>93325</tspan><tspan x="745" class="g">115397 </tspan><tspan>93997</tspan><tspan x="985" class="g">115897 </tspan><tspan>94497</tspan></text>
<text class="e b" y="79"><tspan x="505">0.5 OD</tspan><tspan x="745">0.75 OD</tspan></text>
</g>

<g id="row33" transform="translate(.5 4390.5)"><use href="#st"/><use href="#tk"/>
<text class="t" y="-14"><tspan x="25">♩=185</tspan><tspan x="505">♩=190</tspan><tspan x="745">♩=193</tspan></text>
<text class="r" y="-3"><tspan x="25">133</tspan><tspan x="265">134</tspan><tspan x="505">135</tspan><tspan x="745">136</tspan></text>
<text x="805" y="-3">bridge_a</text>
<use href="#R" x="85"/><use href="#Y" x="145"/><use href="#B" x="205"/><use href="#G" x="235"/><use href="#Y" x="235"/>
<use href="#R" x="325"/><use href="#Y" x="385"/><use href="#B" x="445"/><use href="#G" x="475"/><use href="#R" x="475"/>
<use href="#B" x="565"/><use href="#O" x="625"/><use href="#B" x="655"/><use href="#R" x="715"/>
<use href="#R8" x="745"/><use href="#O" x="745"/><use href="#B" x="835"/><use href="#O" x="925"/>
<text class="e" y="61"><tspan x="265">125</tspan><tspan x="505">125</tspan><tspan x="745">100</tspan><tspan x="985">275</tspan></text>
<text class="e r" y="70"><tspan x="265" class="g">116397 </tspan><tspan>94997</tspan><tspan x="505" class="g">116897 </tspan><tspan>95497</tspan><tspan x="745" class="g">117297 </tspan><tspan>95897</tspan><tspan x="985" class="g">118397 </tspan><tspan>96997</tspan></text>
</g>

<g id="row34" transform="translate(.5 4520.5)"><use href="#st"/><use href="#tk"/>
<text class="r" y="-3"><tspan x="25">137</tspan><tspan x="265">138</tspan><tspan x="505">139</tspan><tspan x="745">140</tspan></text>
<use href="#R8" x="25"/><use href="#R8" x="265"/><use href="#R8" x="505"/><use href="#R8" x="745"/>
<use href="#B" x="55"/><use href="#B" x="205"/><use href="#B" x="355"/><use href="#B" x="535"/><use href="#B" x="685"/><use href="#B" x="835"/>
<use href="#O" x="145"/><use href="#O" x="265"/><use href="#O" x="445"/><use href="#O" x="625"/><use href="#O" x="745"/><use href="#O" x="925"/>
<text class="e" y="61"><tspan x="265">275</tspan><tspan x="505">275</tspan><tspan x="745">275</tspan><tspan x="985">275</tspan></text>
<text class="e r" y="70"><tspan x="265" class="g">119497 </tspan><tspan>98097</tspan><tspan x="505" class="g">120597 </tspan><tspan>99197</tspan><tspan x="745" class="g">121697 </tspan><tspan>100297</tspan><tspan x="985" class="g">122797 </tspan><tspan>101397</tspan></text>
</g>

<g id="row35" transform="translate(.5 4650.5)"><rect class="ph" x="25" y="-5" width="196" height="58"/><use href="#st"/><use href="#tk"/>
<text class="r" y="-3"><tspan x="25">141</tspan><tspan x="265">142</tspan><tspan x="505">143</tspan><tspan x="745">144</tspan></text>
<text x="805" y="-3">bridge_b</text>
<use href="#A1" x="25"/><use href="#A1" x="55"/><use href="#A1" x="85"/><use href="#A1" x="115"/><use href="#A1" x="145"/><use href="#A1" x="175"/><use href="#A1" x="205"/><use href="#A3" x="55"/><use href="#A3" x="205"/><use href="#A4" x="145"/>
<use href="#R" x="235"/><use href="#R8" x="265"/><use href="#O" x="265"/><use href="#B" x="355"/><use href="#O" x="445"/>
<use href="#R8" x="505"/><use href="#B" x="535"/><use href="#O" x="625"/><use href="#B" x="685"/>
<use href="#R" x="745"/><use href="#R" x="775"/><use href="#R" x="805"/><use href="#R" x="835"/><use href="#R" x="865"/><use href="#R" x="925"/><use href="#Y" x="895"/><use href="#O" x="775"/><use href="#B" x="865"/>
<text class="e" y="61"><tspan x="265">275</tspan><tspan x="505">275</tspan><tspan x="745">275</tspan><tspan x="985">225</tspan></text>
<text class="e r" y="70"><tspan x="265" class="g">123897 </tspan><tspan>102497</tspan><tspan x="505" class="g">124997 </tspan><tspan>103597</tspan><tspan x="745" class="g">126097 </tspan><tspan>104697</tspan><tspan x="985" class="g">126997 </tspan><tspan>105597</tspan></text>
</g>

<g id="row36" transform="translate(.5 4780.5)"><use href="#st"/><use href="#tk"/>
<text class="t" y="-14"><tspan x="265">♩=195</tspan><tspan x="505">♩=193</tspan></text>
<text class="r" y="-3"><tspan x="25">145</tspan><tspan x="265">146</tspan><tspan x="505">147</tspan><tspan x="745">148</tspan></text>
<path class="sr" d="M115 12H236"/><path class="so" d="M115 48H236"/>
<use href="#R" x="25"/><use href="#R" x="55"/><use href="#B" x="55"/><use href="#R" x="115"/><use href="#O" x="115"/>
<use href="#BR1"/><use href="#BR2"/>
<use href="#R" x="745"/><use href="#R" x="775"/><use href="#O" x="775"/><use href="#R" x="835"/><use href="#R" x="865"/><use href="#B" x="865"/><use href="#Y" x="895"/><use href="#R" x="925"/>
<text class="e" y="61"><tspan x="265">173</tspan><tspan x="505">225</tspan><tspan x="745">199</tspan><tspan x="985">200</tspan></text>
<text class="e r" y="70"><tspan x="265" class="g">127689 </tspan><tspan>106289</tspan><tspan x="505" class="g">128589 </tspan><tspan>107189</tspan><tspan x="745" class="g">129385 </tspan><tspan>107985</tspan><tspan x="985" class="g">130185 </tspan><tspan>108785</tspan></text>
</g>

<g id="row37" transform="translate(.5 4910.5)"><rect class="ph" x="25" y="-5" width="240" height="58"/><use href="#st"/><use href="#tk"/>
<text class="t" x="745" y="-14">♩=195</text>
<text class="r" y="-3"><tspan x="25">149</tspan><tspan x="265">150</tspan><tspan x="505">151</tspan><tspan x="745">152</tspan></text>
<text x="805" y="-3">bridge_c</text>
<path class="sa" d="M115 12H236M115 48H236"/>
<use href="#A1" x="25"/><use href="#A1" x="55"/><use href="#A3" x="55"/><use href="#A1" x="115"/><use href="#A4" x="115"/>
<use href="#BR1"/><use href="#BR2"/><use href="#BC"/>
<text class="e" y="61"><tspan x="265">173</tspan><tspan x="505">225</tspan><tspan x="745">199</tspan><tspan x="985">199</tspan></text>
<text class="e r" y="70"><tspan x="265" class="g">130877 </tspan><tspan>109477</tspan><tspan x="505" class="g">131777 </tspan><tspan>110377</tspan><tspan x="745" class="g">132573 </tspan><tspan>111173</tspan><tspan x="985" class="g">133369 </tspan><tspan>111969</tspan></text>
<text class="e b" x="265" y="79">2 OD</text>
</g>

<g id="row38" transform="translate(.5 5040.5)"><rect class="ph" x="505" y="-5" width="240" height="58"/><use href="#st"/><use href="#tk"/>
<text class="r" y="-3"><tspan x="25">153</tspan><tspan x="265">154</tspan><tspan x="505">155</tspan><tspan x="745">156</tspan></text>
<use href="#BD1"/><use href="#BD2"/>
<path class="sa" d="M505 0H580M505 24H580M595 12H670M595 36H670"/>
<use href="#A0" x="505"/><use href="#A2" x="505"/><use href="#A1" x="595"/><use href="#A3" x="595"/><use href="#A2" x="685"/><use href="#A4" x="685"/>
<use href="#BC"/>
<text class="e" y="61"><tspan x="265">205</tspan><tspan x="505">210</tspan><tspan x="745">210</tspan><tspan x="985">199</tspan></text>
<text class="e r" y="70"><tspan x="265" class="g">134189 </tspan><tspan>112789</tspan><tspan x="505" class="g">135029 </tspan><tspan>113629</tspan><tspan x="745" class="g">135869 </tspan><tspan>114469</tspan><tspan x="985" class="g">136665 </tspan><tspan>115265</tspan></text>
<text class="e b" x="745" y="79">2.5 OD</text>
</g>

<g id="row39" transform="translate(.5 5170.5)"><use href="#st"/><use href="#tk"/>
<text class="r" y="-3"><tspan x="25">157</tspan><tspan x="265">158</tspan><tspan x="505">159</tspan><tspan x="745">160</tspan></text>
<text x="565" y="-3">prechorus_3</text>
<use href="#BD1"/><use href="#BD2"/>
<path class="sr" d="M715 12H985"/>
<use href="#G" x="535"/><use href="#R" x="565"/><use href="#Y" x="625"/><use href="#Y" x="655"/><use href="#B" x="685"/><use href="#R" x="715"/>
<text class="e" y="61"><tspan x="265">205</tspan><tspan x="505">210</tspan><tspan x="745">156</tspan><tspan x="985">48</tspan></text>
<text class="e r" y="70"><tspan x="265" class="g">137485 </tspan><tspan>116085</tspan><tspan x="505" class="g">138325 </tspan><tspan>116925</tspan><tspan x="745" class="g">138949 </tspan><tspan>117549</tspan><tspan x="985" class="g">139141 </tspan><tspan>117741</tspan></text>
</g>

<g id="row40" transform="translate(.5 5300.5)"><use href="#st"/><use href="#tk"/>
<text class="r" y="-3"><tspan x="25">161</tspan><tspan x="265">162</tspan><tspan x="505">163</tspan><tspan x="745">164</tspan></text>
<path class="sg" d="M235 0H505"/><path class="sr" d="M715 12H985"/>
<use href="#G" x="55"/><use href="#R" x="85"/><use href="#Y" x="145"/><use href="#B" x="205"/><use href="#G" x="235"/>
<use href="#G" x="535"/><use href="#Y" x="565"/><use href="#B" x="625"/><use href="#O" x="685"/><use href="#R" x="715"/>
<text class="e" y="61"><tspan x="265">131</tspan><tspan x="505">48</tspan><tspan x="745">131</tspan><tspan x="985">48</tspan></text>
<text class="e r" y="70"><tspan x="265" class="g">139665 </tspan><tspan>118265</tspan><tspan x="505" class="g">139857 </tspan><tspan>118457</tspan><tspan x="745" class="g">140381 </tspan><tspan>118981</tspan><tspan x="985" class="g">140573 </tspan><tspan>119173</tspan></text>
</g>

<g id="row41" transform="translate(.5 5430.5)"><rect class="ph" x="25" y="-5" width="240" height="58"/><use href="#st"/><use href="#tk"/>
<text class="t" x="745" y="-14">♩=190</text>
<text class="r" y="-3"><tspan x="25">165</tspan><tspan x="265">166</tspan><tspan x="505">167</tspan><tspan x="745">168</tspan></text>
<text x="805" y="-3">chorus_3</text>
<path class="sa" d="M235 0H445M235 24H445"/>
<use href="#A0" x="55"/><use href="#A2" x="85"/><use href="#A2" x="115"/><use href="#A3" x="145"/><use href="#A3" x="175"/><use href="#A4" x="205"/><use href="#A0" x="235"/><use href="#A2" x="235"/>
<path class="sb" d="M505 36H760"/><path class="so" d="M505 48H760"/><use href="#B" x="505"/><use href="#O" x="505"/>
<use href="#CH" x="745"/>
<text class="e" y="61"><tspan x="265">212</tspan><tspan x="505">72</tspan><tspan x="745">146</tspan><tspan x="985">166</tspan></text>
<text class="e r" y="70"><tspan x="265" class="g">141421 </tspan><tspan>120021</tspan><tspan x="505" class="g">141709 </tspan><tspan>120309</tspan><tspan x="745" class="g">142293 </tspan><tspan>120893</tspan><tspan x="985" class="g">142957 </tspan><tspan>121557</tspan></text>
<text class="e b" y="79"><tspan x="265">0.5 OD</tspan><tspan x="505">3 OD</tspan></text>
</g>

<g id="row42" transform="translate(.5 5560.5)"><use href="#st"/><use href="#tk"/>
<text class="t" y="-14"><tspan x="25">♩=193</tspan><tspan x="265">♩=195</tspan><tspan x="745">♩=197</tspan></text>
<text class="r" y="-3"><tspan x="25">169</tspan><tspan x="265">170</tspan><tspan x="505">171</tspan><tspan x="745">172</tspan></text>
<use href="#E1"/><use href="#G" x="205"/><use href="#Y" x="205"/><use href="#G" x="265"/><use href="#CH" x="265"/>
<path class="sr" d="M505 12H775"/><path class="sb" d="M505 36H775"/><use href="#R" x="505"/><use href="#B" x="505"/>
<use href="#CH" x="745"/>
<text class="e" y="61"><tspan x="265">210</tspan><tspan x="505">185</tspan><tspan x="745">146</tspan><tspan x="985">172</tspan></text>
<text class="e r" y="70"><tspan x="265" class="g">143797 </tspan><tspan>122397</tspan><tspan x="505" class="g">144537 </tspan><tspan>123137</tspan><tspan x="745" class="g">145121 </tspan><tspan>123721</tspan><tspan x="985" class="g">145809 </tspan><tspan>124409</tspan></text>
</g>

<g id="row43" transform="translate(.5 5690.5)"><use href="#st"/><use href="#tk"/>
<text class="t" x="745" y="-14">♩=195</text>
<text class="r" y="-3"><tspan x="25">173</tspan><tspan x="265">174</tspan><tspan x="505">175</tspan><tspan x="745">176</tspan></text>
<text x="805" y="-3">ending</text>
<use href="#E1"/><use href="#G" x="205"/><use href="#Y" x="205"/><use href="#G" x="265"/><use href="#CH" x="265"/>
<path class="sr" d="M505 12H790"/><path class="sb" d="M505 36H790"/><use href="#R" x="505"/><use href="#B" x="505"/>
<use href="#CH" x="745"/>
<text class="e" y="61"><tspan x="265">210</tspan><tspan x="505">185</tspan><tspan x="745">146</tspan><tspan x="985">178</tspan></text>
<text class="e r" y="70"><tspan x="265" class="g">146649 </tspan><tspan>125249</tspan><tspan x="505" class="g">147389 </tspan><tspan>125989</tspan><tspan x="745" class="g">147973 </tspan><tspan>126573</tspan><tspan x="985" class="g">148685 </tspan><tspan>127285</tspan></text>
</g>

<g id="row44" transform="translate(.5 5820.5)"><use href="#st"/><use href="#tk"/>
<text class="r" y="-3"><tspan x="25">177</tspan><tspan x="265">178</tspan><tspan x="505">179</tspan><tspan x="745">180</tspan></text>
<use href="#E1"/><use href="#G" x="205"/><use href="#Y" x="205"/><use href="#G" x="265"/><use href="#CH" x="265"/>
<path class="sr" d="M505 12H790"/><path class="sb" d="M505 36H790"/><use href="#R" x="505"/><use href="#B" x="505"/>
<use href="#CH" x="745"/>
<text class="e" y="61"><tspan x="265">210</tspan><tspan x="505">185</tspan><tspan x="745">146</tspan><tspan x="985">178</tspan></text>
<text class="e r" y="70"><tspan x="265" class="g">149525 </tspan><tspan>128125</tspan><tspan x="505" class="g">150265 </tspan><tspan>128865</tspan><tspan x="745" class="g">150849 </tspan><tspan>129449</tspan><tspan x="985" class="g">151561 </tspan><tspan>130161</tspan></text>
</g>

<g id="row45" transform="translate(.5 5950.5)"><use href="#st"/>
<path d="M24.5-38v8M87.5-38v8M147.5-38v8M206.5-38v8M237.5-38v8M264.5-38v8M311.5-38v8M349.5-38v8M387.5-38v8M432.5-38v8M468.5-38v8M504.5-38v8M551.5-38v8M597.5-38v8M642.5-38v8M684.5-38v8M732.5-38v8M776.5-38v8M821.5-38v8M863.5-38v8M911.5-38v8M956.5-38v8" stroke="#f00" stroke-width="2"/>
<text class="t" y="-14"><tspan x="205">♩=92</tspan><tspan x="265">♩=95</tspan><tspan x="505">♩=85</tspan></text>
<text class="r" y="-3"><tspan x="25">181</tspan><tspan x="265">182</tspan><tspan x="505">183</tspan><tspan x="745">184</tspan></text>
<use href="#E1"/>
<path class="sg" d="M205 0H251M595 0H955M970 0H985"/>
<path class="sy" d="M205 24H251M265 24H295M311 24H370M431 24H475M505 24H535M551 24H580M595 24H955M970 24H985"/>
<path class="so" d="M265 48H295M505 48H535"/>
<path class="sb" d="M311 36H370M385 36H415M551 36H580"/>
<path class="sr" d="M385 12H415M431 12H475"/>
<use href="#G" x="205"/><use href="#Y" x="205"/><use href="#Y" x="265"/><use href="#O" x="265"/><use href="#Y" x="311"/><use href="#B" x="311"/><use href="#R" x="385"/><use href="#B" x="385"/><use href="#R" x="431"/><use href="#Y" x="431"/>
<use href="#Y" x="505"/><use href="#O" x="505"/><use href="#Y" x="551"/><use href="#B" x="551"/><use href="#G" x="595"/><use href="#Y" x="595"/><use href="#G" x="970"/><use href="#Y" x="970"/>
<text class="e" y="61"><tspan x="265">228</tspan><tspan x="505">266</tspan><tspan x="745">234</tspan><tspan x="985">140</tspan></text>
<text class="e r" y="70"><tspan x="265" class="g">152473 </tspan><tspan>131073</tspan><tspan x="505" class="g">153537 </tspan><tspan>132137</tspan><tspan x="745" class="g">154473 </tspan><tspan>133073</tspan><tspan x="985" class="g">155033 </tspan><tspan>133633</tspan></text>
</g>

<g id="row46" transform="translate(.5 6080.5)"><use href="#st"/>
<path d="M41.5-38v8M84.5-38v8M132.5-38v8M177.5-38v8M222.5-38v8M264.5-38v8M311.5-38v8M356.5-38v8M401.5-38v8M447.5-38v8M492.5-38v8M537.5-38v8M582.5-38v8M624.5-38v8M671.5-38v8M716.5-38v8M761.5-38v8M807.5-38v8M852.5-38v8M897.5-38v8M942.5-38v8" stroke="#f00" stroke-width="2"/>
<text class="r" y="-3"><tspan x="25">185</tspan><tspan x="265">186</tspan><tspan x="505">187</tspan><tspan x="745">188</tspan></text>
<path class="sg" d="M25 0H265M280 0H550M565 0H865"/><path class="sy" d="M25 24H265M280 24H550M565 24H865"/>
<use href="#G" x="280"/><use href="#Y" x="280"/><use href="#G" x="565"/><use href="#Y" x="565"/>
<text class="e" y="61"><tspan x="265">96</tspan><tspan x="505">140</tspan><tspan x="745">140</tspan><tspan x="985">48</tspan></text>
<text class="e r" y="70"><tspan x="265" class="g">155417 </tspan><tspan>134017</tspan><tspan x="505" class="g">155977 </tspan><tspan>134577</tspan><tspan x="745" class="g">156537 </tspan><tspan>135137</tspan><tspan x="985" class="g">156729 </tspan><tspan>135329</tspan></text>
</g>

<g id="footer" style="font-size:11.5px">
<text x="0" y="6207" fill="#888" style="font-size:11.5px">http://charts.ajanata.com/rb/</text>
<text x="0" y="6221" fill="#f00" style="font-size:11.5px">WARNING: Work in progress. This information has NOT BEEN VERIFIED and MAY BE INCORRECT.</text>
<text x="1005" y="6207" fill="#888" class="e" style="font-size:11.5px">Generated at Fri, 26 Aug 2011 05:35:50 -0400.</text>
<text x="1005" y="6221" fill="#888" class="e" style="font-size:11.5px">Generated by ajanata's Chart Generator, r299.</text>
</g>
</svg>
